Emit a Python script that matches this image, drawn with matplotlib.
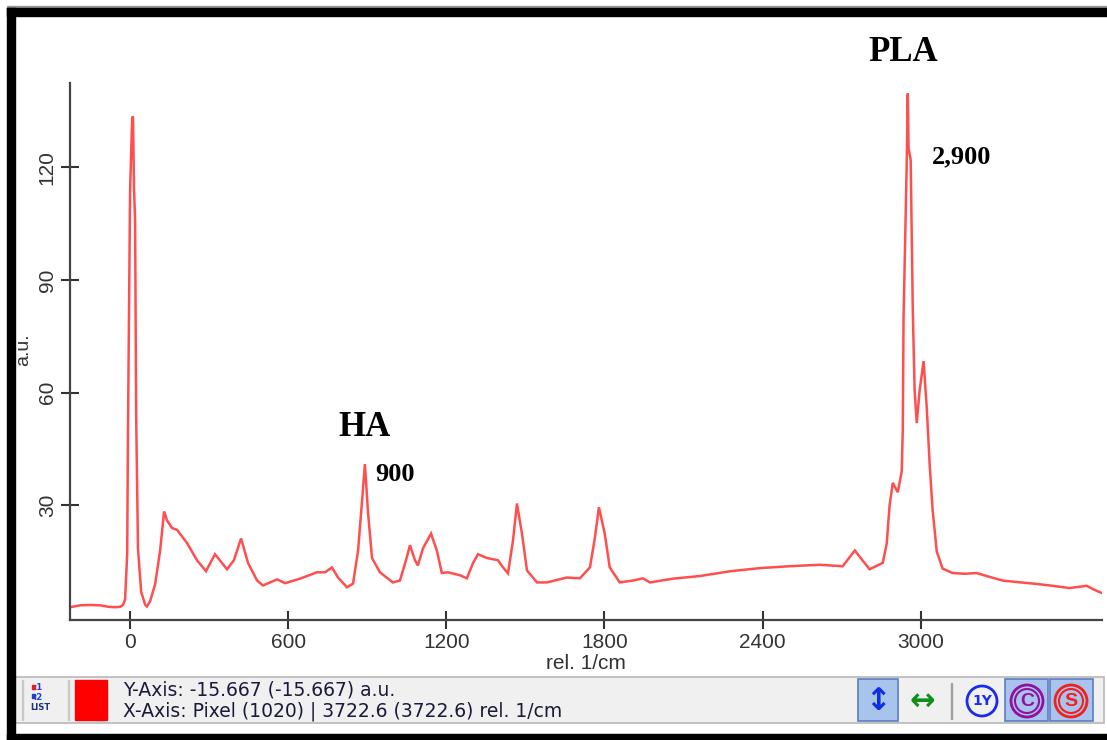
import matplotlib
matplotlib.use("Agg")
import matplotlib.pyplot as plt
from matplotlib.patches import Rectangle, Ellipse

# ---------------- data ----------------
wavenumber = [-228, -190, -150, -114, -80, -57, -38, -27, -19, -11, -8, 0, 8, 11, 15, 19, 23, 30,
              42, 57, 64, 76, 95, 114, 129, 140, 159, 178, 216, 254, 288, 322, 368, 394, 421, 448,
              482, 504, 558, 588, 645, 709, 740, 766, 789, 823, 846, 865, 880, 891, 903, 918, 948,
              997, 1024, 1047, 1062, 1081, 1092, 1111, 1142, 1164, 1183, 1206, 1252, 1278, 1301,
              1320, 1354, 1396, 1415, 1434, 1453, 1468, 1487, 1506, 1544, 1582, 1657, 1707, 1745,
              1764, 1779, 1801, 1820, 1858, 1908, 1946, 1972, 2060, 2162, 2280, 2389, 2500, 2617,
              2704, 2750, 2806, 2856, 2871, 2882, 2894, 2913, 2928, 2932, 2935, 2947, 2951, 2954,
              2962, 2970, 2977, 2985, 2996, 3011, 3023, 3034, 3045, 3061, 3083, 3121, 3170, 3212,
              3260, 3311, 3380, 3440, 3500, 3565, 3630, 3660, 3690]
intensity = [2.9, 3.4, 3.5, 3.4, 3.0, 2.9, 3.0, 3.5, 5.0, 17.0, 50.0, 114.0, 133.0, 133.5, 114.0,
             106.0, 54.0, 18.5, 7.0, 3.6, 3.1, 4.5, 9.0, 18.0, 28.4, 26.0, 24.0, 23.5, 20.0, 15.4,
             12.5, 17.0, 13.0, 15.4, 21.2, 14.6, 10.0, 8.7, 10.3, 9.3, 10.5, 12.2, 12.2, 13.5, 10.8,
             8.2, 9.2, 17.9, 31.0, 41.0, 28.0, 16.0, 12.2, 9.5, 10.0, 15.4, 19.4, 15.4, 14.0, 18.5,
             22.5, 18.0, 12.0, 12.2, 11.4, 10.6, 14.6, 17.0, 16.0, 15.4, 13.5, 11.9, 20.7, 30.5,
             22.5, 12.7, 9.5, 9.5, 10.8, 10.6, 13.5, 21.5, 29.5, 22.5, 13.5, 9.5, 10.0, 10.6, 9.5,
             10.5, 11.2, 12.5, 13.3, 13.8, 14.2, 13.8, 18.0, 13.0, 14.7, 19.8, 30.0, 36.0, 33.5,
             39.0, 50.0, 80.0, 121.0, 139.6, 125.0, 122.0, 82.0, 60.6, 51.9, 60.6, 68.4, 56.0,
             41.0, 29.0, 17.7, 13.2, 12.0, 11.8, 12.0, 11.0, 10.0, 9.5, 9.1, 8.6, 8.0, 8.6, 7.5, 6.6]

x_ticks = [0, 600, 1200, 1800, 2400, 3000]
y_ticks = [30, 60, 90, 120]
x_label = "rel. 1/cm"
y_label = "a.u."
peak_labels = ["HA", "900", "PLA", "2,900"]
status_line1 = "Y-Axis: -15.667 (-15.667) a.u."
status_line2 = "X-Axis: Pixel (1020) | 3722.6 (3722.6) rel. 1/cm"

# ---------------- figure ----------------
W, H = 1107, 740
fig = plt.figure(figsize=(W / 100, H / 100), dpi=100)
fig.patch.set_facecolor("white")


def fx(px):
    return px / W


def fy(py):
    return 1 - py / H


def rect(x0, y0, x1, y1, **kw):
    r = Rectangle((fx(x0), fy(y1)), (x1 - x0) / W, (y1 - y0) / H,
                  transform=fig.transFigure, **kw)
    fig.add_artist(r)
    return r


# axes
ax = fig.add_axes([fx(70), fy(620), fx(1102) - fx(70), fy(83) - fy(620)])
ax.plot(wavenumber, intensity, color="#ff3b3b", lw=1.8, alpha=0.9, solid_joinstyle="miter")
ax.set_xlim(-228, 3688)
ax.set_ylim(-0.5, 142.4)
for s in ["top", "right"]:
    ax.spines[s].set_visible(False)
for s in ["left", "bottom"]:
    ax.spines[s].set_color("#444444")
    ax.spines[s].set_linewidth(1.6)
ax.set_xticks(x_ticks)
ax.set_yticks(y_ticks)
ax.tick_params(direction="inout", length=13, width=1.5, color="#333333",
               labelsize=15, labelcolor="#333333", pad=3)
for lab in ax.get_xticklabels() + ax.get_yticklabels():
    lab.set_family("Liberation Sans")
for lab in ax.get_yticklabels():
    lab.set_rotation(90)
    lab.set_va("center")
ax.set_xlabel(x_label, fontsize=15, family="Liberation Sans", color="#333333", labelpad=1)
fig.text(fx(24), fy(350), y_label, rotation=90, fontsize=14, family="Liberation Sans",
         color="#333333", ha="center", va="center")

# peak annotations
serif = dict(family="Liberation Serif", fontweight="bold", color="black")
ax.text(891, 50.8, peak_labels[0], fontsize=25, ha="center", va="center", **serif)
ax.text(930, 38.3, peak_labels[1], fontsize=19, ha="left", va="center", **serif)
ax.text(2935, 150.5, peak_labels[2], fontsize=25, ha="center", va="center", clip_on=False, **serif)
ax.text(3042, 122.7, peak_labels[3], fontsize=19, ha="left", va="center", **serif)

# outer black frame
rect(7, 6, W, 9, color="#999999", zorder=5)
rect(7, 8, W, 16, color="black", zorder=6)
rect(7, 8, 15, H, color="black", zorder=6)
rect(7, 734, W, H, color="black", zorder=6)

# status bar
rect(15, 677, 1104, 723, facecolor="#f0f0f0", edgecolor="#b8b8b8", lw=1.2, zorder=3)
rect(22, 680, 23, 720, color="#c8c8c8", zorder=4)
rect(68, 680, 69, 720, color="#c8c8c8", zorder=4)
# LIST icon
fig.text(fx(38), fy(688), ":1", fontsize=6, color="#2040d0", ha="center", va="center",
         family="DejaVu Sans", fontweight="bold")
fig.text(fx(38), fy(697), ":2", fontsize=6, color="#2040d0", ha="center", va="center",
         family="DejaVu Sans", fontweight="bold")
rect(32, 685, 35, 689, color="#e02020", zorder=5)
rect(32, 694, 35, 698, color="#2040d0", zorder=5)
fig.text(fx(40), fy(708), "LIST", fontsize=6, color="#203080", ha="center", va="center",
         family="DejaVu Sans", fontweight="bold")
# red colour swatch
rect(75, 680, 107, 720, color="#ff0000", zorder=4)
# status text
fig.text(fx(123), fy(690), status_line1, fontsize=13.5, family="Liberation Sans Narrow",
         color="#1a1a3a", ha="left", va="center")
fig.text(fx(123), fy(711), status_line2, fontsize=13.5, family="Liberation Sans Narrow",
         color="#1a1a3a", ha="left", va="center")

# toolbar buttons
rect(858, 679, 898, 721, facecolor="#a8c4ec", edgecolor="#5a7fc0", lw=1.2, zorder=4)
fig.text(fx(878), fy(701), "\u2195", fontsize=22, color="#1030e0", ha="center", va="center",
         family="DejaVu Sans", fontweight="bold", zorder=6)
fig.text(fx(922), fy(702), "\u2194", fontsize=22, color="#10901a", ha="center", va="center",
         family="DejaVu Sans", fontweight="bold", zorder=6)
rect(951, 683, 952, 719, color="#a0a0a0", zorder=4)
rect(1005, 679, 1048, 721, facecolor="#a8c4ec", edgecolor="#5a7fc0", lw=1.2, zorder=4)
rect(1050, 679, 1093, 721, facecolor="#a8c4ec", edgecolor="#5a7fc0", lw=1.2, zorder=4)


def circle(cx, cy, r, color, lw=2.0):
    e = Ellipse((fx(cx), fy(cy)), 2 * r / W, 2 * r / H, transform=fig.transFigure,
                facecolor="none", edgecolor=color, lw=lw, zorder=6)
    fig.add_artist(e)


circle(982, 701, 15, "#1a2af0")
fig.text(fx(982), fy(701), "1Y", fontsize=10, color="#1a2af0", ha="center", va="center",
         family="Liberation Sans Narrow", fontweight="bold", zorder=7)
circle(1027, 701, 16, "#9010a0")
circle(1027, 701, 12, "#9010a0", lw=1.5)
fig.text(fx(1027), fy(701), "C", fontsize=14, color="#9010a0", ha="center", va="center",
         family="Liberation Sans", fontweight="bold", zorder=7)
circle(1071, 701, 16, "#f02020")
circle(1071, 701, 12, "#f02020", lw=1.5)
fig.text(fx(1071), fy(701), "S", fontsize=14, color="#f02020", ha="center", va="center",
         family="Liberation Sans", fontweight="bold", zorder=7)

fig.savefig("out.png", dpi=100)
